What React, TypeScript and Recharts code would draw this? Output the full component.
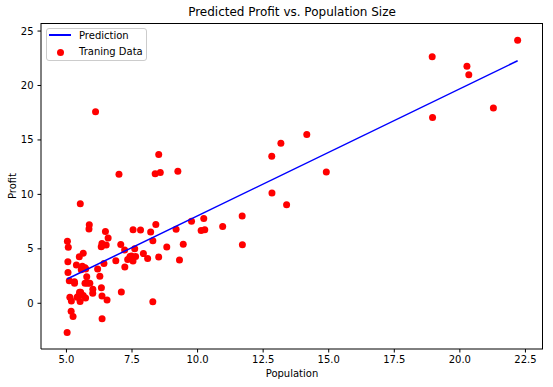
import React from "react";
import {
    ComposedChart,
    Scatter,
    XAxis,
    YAxis,
} from "recharts";

// population (10,000s) vs profit ($10,000s)
const population = [
    6.1101, 5.5277, 8.5186, 7.0032, 5.8598, 8.3829, 7.4764, 8.5781, 6.4862, 5.0546,
    5.7107, 14.164, 5.734, 8.4084, 5.6407, 5.3794, 6.3654, 5.1301, 6.4296, 7.0708,
    6.1891, 20.27, 5.4901, 6.3261, 5.5649, 18.945, 12.828, 10.957, 13.176, 22.203,
    5.2524, 6.5894, 9.2482, 5.8918, 8.2111, 7.9334, 8.0959, 5.6063, 12.836, 6.3534,
    5.4069, 6.8825, 11.708, 5.7737, 7.8247, 7.0931, 5.0702, 5.8014, 11.7, 5.5416,
    7.5402, 5.3077, 7.4239, 7.6031, 6.3328, 6.3589, 6.2742, 5.6397, 9.3102, 9.4536,
    8.8254, 5.1793, 21.279, 14.908, 18.959, 7.2182, 8.2951, 10.236, 5.4994, 20.341,
    10.136, 7.3345, 6.0062, 7.2259, 5.0269, 6.5479, 7.5386, 5.0365, 10.274, 5.1077,
    5.7292, 5.1884, 6.3557, 9.7687, 6.5159, 8.5172, 9.1802, 6.002, 5.5204, 5.0594,
    5.7077, 7.6366, 5.8707, 5.3054, 8.2934, 13.394, 5.4369,
];
const profit = [
    17.592, 9.1302, 13.662, 11.854, 6.8233, 11.886, 4.3483, 12, 6.5987, 3.8166,
    3.2522, 15.505, 3.1551, 7.2258, 0.71618, 3.5129, 5.3048, 0.56077, 3.6518, 5.3893,
    3.1386, 21.767, 4.263, 5.1875, 3.0825, 22.638, 13.501, 7.0467, 14.692, 24.147,
    -1.22, 5.9966, 12.134, 1.8495, 6.5426, 4.5623, 4.1164, 3.3928, 10.117, 5.4974,
    0.55657, 3.9115, 5.3854, 2.4406, 6.7318, 1.0463, 5.1337, 1.844, 8.0043, 1.0179,
    6.7504, 1.8396, 4.2885, 4.9981, 1.4233, -1.4211, 2.4756, 4.6042, 3.9624, 5.4141,
    5.1694, -0.74279, 17.929, 12.054, 17.054, 4.8852, 5.7442, 7.7754, 1.0173, 20.992,
    6.6799, 4.0259, 1.2784, 3.3411, -2.6807, 0.29678, 3.8845, 5.7014, 6.7526, 2.0576,
    0.47953, 0.20421, 0.67861, 7.5435, 5.3436, 4.2415, 6.7981, 0.92695, 0.152, 2.8214,
    1.8451, 4.2959, 7.2029, 1.9869, 0.14454, 9.0551, 0.61705,
];

// fitted line end points
const predX = [5.0269, 22.203];
const predY = [2.23, 22.27];

const xTicks = [5, 7.5, 10, 12.5, 15, 17.5, 20, 22.5];
const yTicks = [0, 5, 10, 15, 20, 25];

const trainData = population.map((x, i) => ({ x, y: profit[i] }));
const predData = predX.map((x, i) => ({ x, y: predY[i] }));

const xDomain = [4.03, 23.17];
const yDomain = [-4.2, 25.74];

const font = "'DejaVu Sans', sans-serif";
const tickStyle = { fontSize: 10, fill: "#000", fontFamily: font };

const LegendBox = () => (
    <div
        style={{
            position: "absolute",
            left: 46,
            top: 28,
            width: 99,
            height: 31,
            border: "1px solid #cccccc",
            borderRadius: 3,
            background: "rgba(255,255,255,0.8)",
            fontFamily: font,
            fontSize: 10,
            color: "#000",
        }}
    >
        <div style={{ position: "absolute", left: 2, top: 5, width: 22, height: 1.5, background: "#0000ff" }} />
        <div style={{ position: "absolute", left: 32, top: 0, lineHeight: "13px" }}>Prediction</div>
        <div style={{ position: "absolute", left: 10, top: 20, width: 7, height: 7, borderRadius: "50%", background: "#ff0000" }} />
        <div style={{ position: "absolute", left: 32, top: 16, lineHeight: "13px" }}>Traning Data</div>
    </div>
);

const App = () => {
    return (
        <div style={{ position: "absolute", left: 0, top: 0, width: 553, height: 387, background: "#fff" }}>
            <ComposedChart
                width={553}
                height={387}
                margin={{ top: 23, right: 10, bottom: 0, left: 0 }}
            >
                <XAxis
                    type="number"
                    dataKey="x"
                    domain={xDomain}
                    ticks={xTicks}
                    tickFormatter={(v: number) => v.toFixed(1)}
                    allowDataOverflow
                    height={38}
                    tickSize={3.5}
                    tickMargin={3}
                    tick={tickStyle}
                    stroke="#000"
                    label={{ value: "Population", position: "insideBottom", offset: 10, style: { fontSize: 10, fill: "#000", fontFamily: font } }}
                />
                <YAxis
                    type="number"
                    dataKey="y"
                    domain={yDomain}
                    ticks={yTicks}
                    allowDataOverflow
                    width={41}
                    tickSize={3.5}
                    tickMargin={4}
                    tick={tickStyle}
                    stroke="#000"
                    label={{ value: "Profit", angle: -90, position: "insideLeft", offset: 12, style: { fontSize: 10, fill: "#000", fontFamily: font, textAnchor: "middle" } }}
                />
                <Scatter
                    data={trainData}
                    fill="#ff0000"
                    shape={(p: any) => <circle cx={p.cx} cy={p.cy} r={3.5} fill="#ff0000" />}
                    isAnimationActive={false}
                />
                <Scatter
                    data={predData}
                    line={{ stroke: "#0000ff", strokeWidth: 1.5 }}
                    shape={() => <g />}
                    isAnimationActive={false}
                />
            </ComposedChart>
            {/* top + right spines */}
            <div
                style={{
                    position: "absolute",
                    left: 41,
                    top: 23,
                    width: 502,
                    height: 326,
                    borderTop: "1px solid #000",
                    borderRight: "1px solid #000",
                    boxSizing: "border-box",
                    pointerEvents: "none",
                }}
            />
            <div
                style={{
                    position: "absolute",
                    left: 41,
                    width: 502,
                    top: 5,
                    textAlign: "center",
                    fontFamily: font,
                    fontSize: 12,
                    lineHeight: "14px",
                    color: "#000",
                }}
            >
                Predicted Profit vs. Population Size
            </div>
            <LegendBox />
        </div>
    );
};

export default App;
